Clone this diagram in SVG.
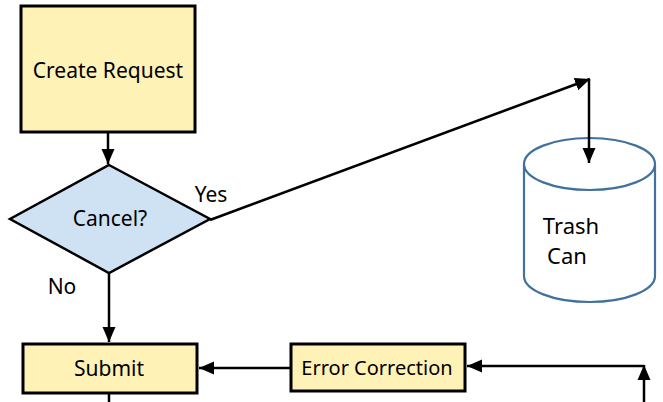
<svg xmlns="http://www.w3.org/2000/svg" width="663" height="402" viewBox="0 0 663 402">
<style>
.box{fill:#fff2b6;stroke:#000;stroke-width:3}
.dia{fill:#cfe2f3;stroke:#000;stroke-width:2.5}
.cyl{fill:#fff;stroke:#41719c;stroke-width:2.2}
.ln{fill:none;stroke:#000;stroke-width:2.5}
.t{font-family:"Noto Sans","DejaVu Sans",sans-serif;font-size:21px;fill:#000;text-anchor:middle}
</style>
<defs>
<marker id="ah" markerUnits="userSpaceOnUse" markerWidth="16" markerHeight="16" viewBox="0 0 16 16" refX="15" refY="8" orient="auto">
<path d="M0,1.5 L15,8 L0,14.5 Z" fill="#000"/>
</marker>
</defs>
<g id="create-request">
<rect class="box" x="21" y="6" width="174" height="126"/>
<text class="t" x="108" y="78">Create Request</text>
</g>
<g id="cancel">
<path class="dia" d="M109,165 L210,219 L109,273 L10,219 Z"/>
<text class="t" x="110" y="226">Cancel?</text>
<text class="t" x="211" y="202">Yes</text>
<text class="t" x="62" y="294">No</text>
</g>
<g id="submit">
<rect class="box" x="23" y="344" width="174" height="49"/>
<text class="t" x="109" y="376">Submit</text>
</g>
<g id="error-correction">
<rect class="box" x="291" y="344" width="174" height="47"/>
<text class="t" x="377" y="375" style="font-size:20px">Error Correction</text>
</g>
<g id="trash-can">
<path class="cyl" d="M524,164 L524,276 A65.5,26 0 0 0 655,276 L655,164"/>
<ellipse class="cyl" cx="589.5" cy="164" rx="65.5" ry="26"/>
<text class="t" x="571" y="234" style="font-size:22px">Trash</text>
<text class="t" x="567" y="264" style="font-size:22px">Can</text>
</g>
<g id="connectors">
<line class="ln" x1="108" y1="133" x2="108" y2="164" marker-end="url(#ah)"/>
<line class="ln" x1="109" y1="273" x2="109" y2="342" marker-end="url(#ah)"/>
<line class="ln" x1="109" y1="394" x2="109" y2="402"/>
<line class="ln" x1="290" y1="368" x2="199" y2="368" marker-end="url(#ah)"/>
<line class="ln" x1="644" y1="402" x2="644" y2="365" marker-end="url(#ah)"/>
<line class="ln" x1="644" y1="366" x2="467" y2="366" marker-end="url(#ah)"/>
<line class="ln" x1="210" y1="220" x2="590" y2="79" marker-end="url(#ah)"/>
<line class="ln" x1="589" y1="79" x2="589" y2="163" marker-end="url(#ah)"/>
</g>
</svg>
